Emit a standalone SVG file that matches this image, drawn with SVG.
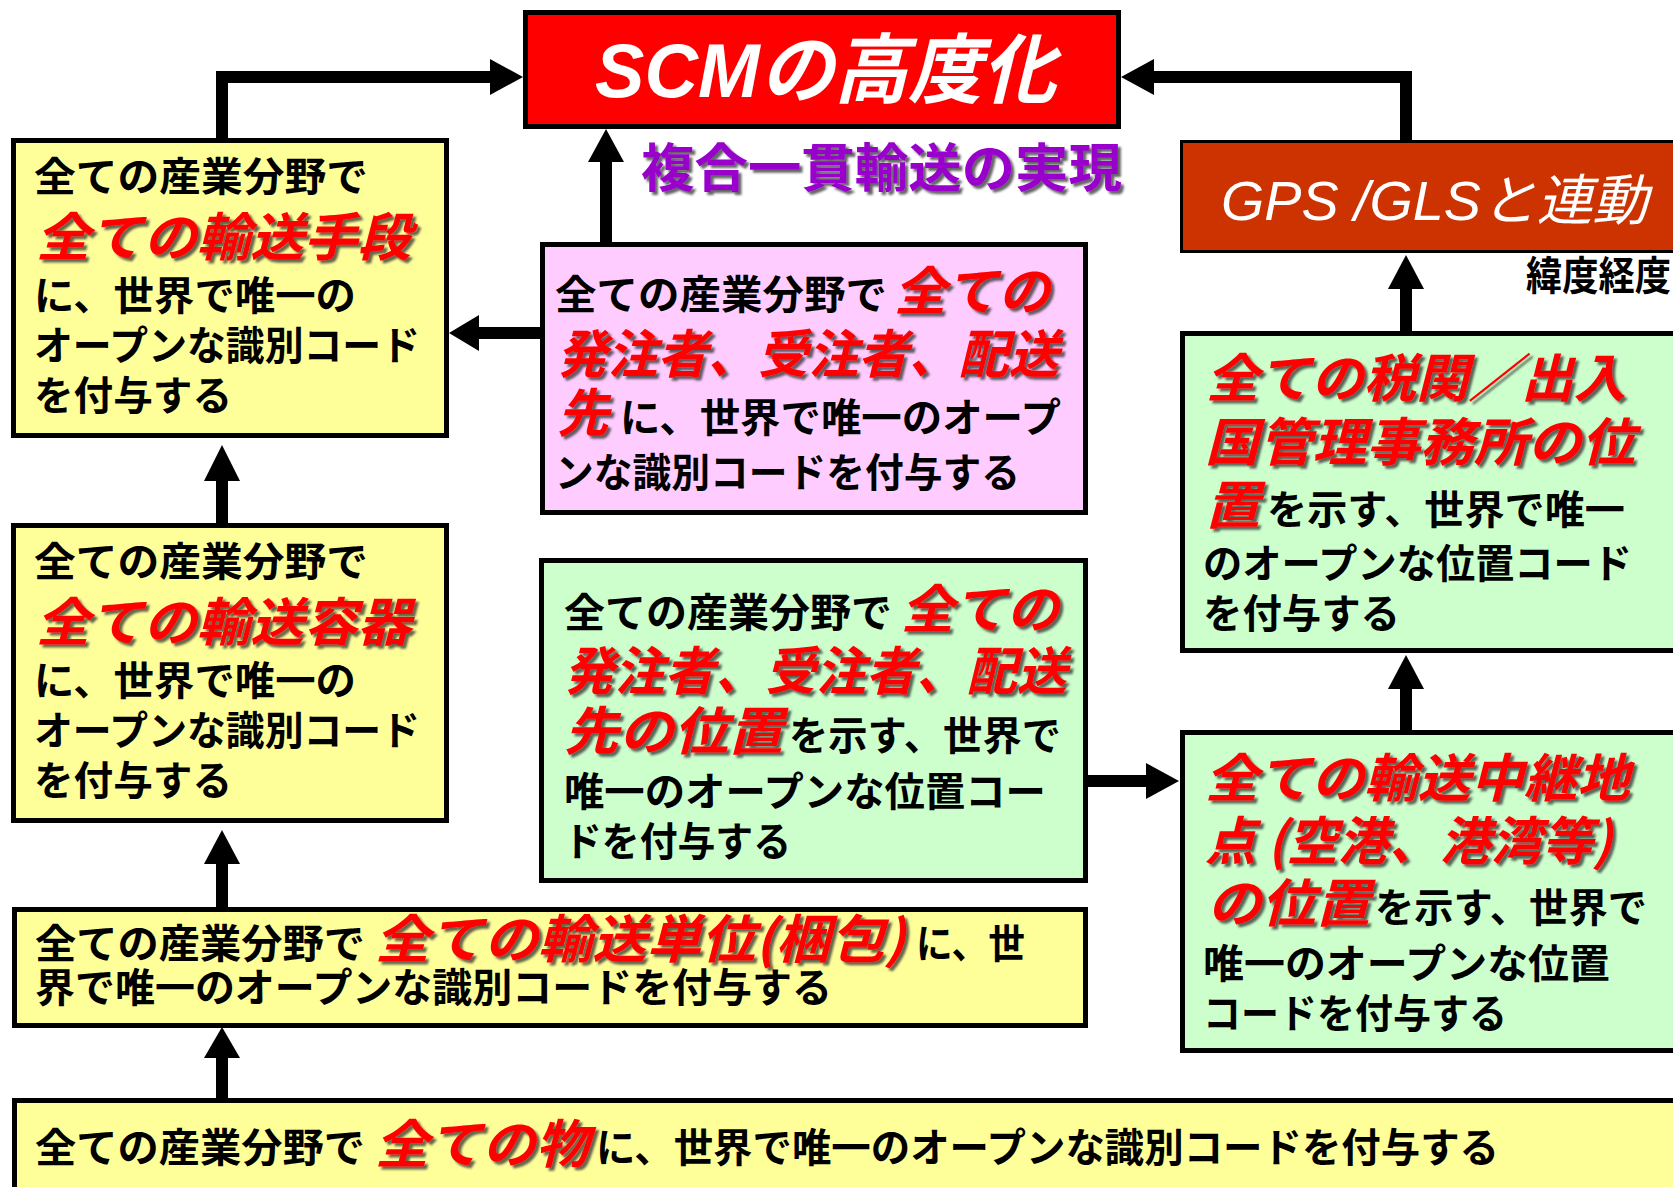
<svg xmlns="http://www.w3.org/2000/svg" width="1673" height="1187" viewBox="0 0 1673 1187">
<defs>
<filter id="sh" x="-5%" y="-20%" width="115%" height="150%">
<feDropShadow dx="3" dy="3" stdDeviation="1.2" flood-color="#333" flood-opacity="0.75"/>
</filter>
<style>
.box{stroke:#000;stroke-width:5}
.y{fill:#FFFF99}.p{fill:#FFCCFF}.g{fill:#CCFFCC}
.b{font-family:"Noto Sans CJK JP","Noto Sans CJK SC",sans-serif;font-weight:bold;font-size:40px;fill:#000}
.r{font-family:"Noto Sans CJK JP","Noto Sans CJK SC",sans-serif;font-weight:bold;font-style:italic;font-size:52px;fill:#FF0000;filter:url(#sh)}
.w{font-family:"Liberation Sans","Noto Sans CJK JP",sans-serif;font-style:italic;fill:#fff}
.ln{fill:none;stroke:#000;stroke-width:12}
.hd{fill:#000}
</style>
</defs>
<rect width="1673" height="1187" fill="#fff"/>

<g id="connectors">
<path class="ln" d="M222,140 V77 H494"/>
<polygon class="hd" points="523,77 490,59 490,95"/>
<path class="ln" d="M1406,142 V77 H1152"/>
<polygon class="hd" points="1121,77 1154,59 1154,95"/>
<path class="ln" d="M606,244 V158"/>
<polygon class="hd" points="606,129 588,162 624,162"/>
<path class="ln" d="M542,333 H476"/>
<polygon class="hd" points="449,333 479,315 479,351"/>
<path class="ln" d="M222,525 V478"/>
<polygon class="hd" points="222,445 204,481 240,481"/>
<path class="ln" d="M222,909 V862"/>
<polygon class="hd" points="222,830 204,864 240,864"/>
<path class="ln" d="M222,1100 V1054"/>
<polygon class="hd" points="222,1027 204,1058 240,1058"/>
<path class="ln" d="M1406,333 V286"/>
<polygon class="hd" points="1406,255 1388,289 1424,289"/>
<path class="ln" d="M1406,732 V686"/>
<polygon class="hd" points="1406,655 1388,689 1424,689"/>
<path class="ln" d="M1088,781 H1148"/>
<polygon class="hd" points="1179,781 1146,763 1146,799"/>
</g>

<g id="scm">
<rect x="525.5" y="12.5" width="593" height="114" fill="#FF0000" class="box"/>
<text class="w" x="595" y="97" font-size="76" font-weight="bold" textLength="461" lengthAdjust="spacingAndGlyphs">SCMの高度化</text>
</g>

<g id="label-intermodal">
<text x="641" y="187" font-family="Noto Sans CJK JP, sans-serif" font-weight="bold" font-size="52" fill="#9900CC" filter="url(#sh)" textLength="481" lengthAdjust="spacingAndGlyphs">複合一貫輸送の実現</text>
</g>

<g id="n-transport-means">
<rect class="box y" x="13.5" y="140.5" width="433" height="295"/>
<text class="b" x="34" y="191" textLength="334" lengthAdjust="spacingAndGlyphs">全ての産業分野で</text>
<text class="r" x="36" y="256" textLength="375" lengthAdjust="spacingAndGlyphs">全ての輸送手段</text>
<text class="b" x="34" y="310" textLength="322" lengthAdjust="spacingAndGlyphs">に、世界で唯一の</text>
<text class="b" x="34" y="360" textLength="386" lengthAdjust="spacingAndGlyphs">オープンな識別コード</text>
<text class="b" x="34" y="410" textLength="198" lengthAdjust="spacingAndGlyphs">を付与する</text>
</g>

<g id="n-parties">
<rect class="box p" x="542.5" y="244.5" width="543" height="268"/>
<text class="b" x="555" y="309" textLength="332" lengthAdjust="spacingAndGlyphs">全ての産業分野で</text>
<text class="r" x="894" y="310" textLength="156" lengthAdjust="spacingAndGlyphs">全ての</text>
<text class="r" x="557" y="373" textLength="502" lengthAdjust="spacingAndGlyphs">発注者、受注者、配送</text>
<text class="r" x="557" y="432" textLength="52" lengthAdjust="spacingAndGlyphs">先</text>
<text class="b" x="620" y="432" textLength="441" lengthAdjust="spacingAndGlyphs">に、世界で唯一のオープ</text>
<text class="b" x="555" y="487" textLength="465" lengthAdjust="spacingAndGlyphs">ンな識別コードを付与する</text>
</g>

<g id="n-containers">
<rect class="box y" x="13.5" y="525.5" width="433" height="295"/>
<text class="b" x="34" y="576" textLength="334" lengthAdjust="spacingAndGlyphs">全ての産業分野で</text>
<text class="r" x="36" y="641" textLength="375" lengthAdjust="spacingAndGlyphs">全ての輸送容器</text>
<text class="b" x="34" y="695" textLength="322" lengthAdjust="spacingAndGlyphs">に、世界で唯一の</text>
<text class="b" x="34" y="745" textLength="386" lengthAdjust="spacingAndGlyphs">オープンな識別コード</text>
<text class="b" x="34" y="795" textLength="198" lengthAdjust="spacingAndGlyphs">を付与する</text>
</g>

<g id="n-party-locations">
<rect class="box g" x="541.5" y="560.5" width="544" height="320"/>
<text class="b" x="564" y="627" textLength="328" lengthAdjust="spacingAndGlyphs">全ての産業分野で</text>
<text class="r" x="901" y="628" textLength="158" lengthAdjust="spacingAndGlyphs">全ての</text>
<text class="r" x="564" y="690" textLength="503" lengthAdjust="spacingAndGlyphs">発注者、受注者、配送</text>
<text class="r" x="564" y="750" textLength="219" lengthAdjust="spacingAndGlyphs">先の位置</text>
<text class="b" x="789" y="750" textLength="272" lengthAdjust="spacingAndGlyphs">を示す、世界で</text>
<text class="b" x="564" y="806" textLength="482" lengthAdjust="spacingAndGlyphs">唯一のオープンな位置コー</text>
<text class="b" x="564" y="856" textLength="227" lengthAdjust="spacingAndGlyphs">ドを付与する</text>
</g>

<g id="n-packages">
<rect class="box y" x="14.5" y="909.5" width="1071" height="116"/>
<text class="b" x="35" y="958" textLength="330" lengthAdjust="spacingAndGlyphs">全ての産業分野で</text>
<text class="r" x="375" y="958" textLength="530" lengthAdjust="spacingAndGlyphs">全ての輸送単位(梱包)</text>
<text class="b" x="916" y="958" textLength="109" lengthAdjust="spacingAndGlyphs">に、世</text>
<text class="b" x="35" y="1002" textLength="797" lengthAdjust="spacingAndGlyphs">界で唯一のオープンな識別コードを付与する</text>
</g>

<g id="n-goods">
<rect class="box y" x="14.5" y="1100.5" width="1680" height="100"/>
<text class="b" x="35" y="1162" textLength="330" lengthAdjust="spacingAndGlyphs">全ての産業分野で</text>
<text class="r" x="375" y="1163" textLength="214" lengthAdjust="spacingAndGlyphs">全ての物</text>
<text class="b" x="596" y="1162" textLength="903" lengthAdjust="spacingAndGlyphs">に、世界で唯一のオープンな識別コードを付与する</text>
</g>

<g id="n-gps">
<rect x="1181.5" y="141.5" width="520" height="110" fill="#CC3300" stroke="#000" stroke-width="3"/>
<text class="w" x="1221" y="220" font-size="55" textLength="427" lengthAdjust="spacingAndGlyphs">GPS /GLSと連動</text>
</g>

<g id="label-latlon">
<text class="b" x="1526" y="290" font-size="34" textLength="145" lengthAdjust="spacingAndGlyphs">緯度経度</text>
</g>

<g id="n-customs">
<rect class="box g" x="1182.5" y="333.5" width="520" height="317"/>
<text class="r" x="1206" y="397" textLength="420" lengthAdjust="spacingAndGlyphs">全ての税関／出入</text>
<text class="r" x="1205" y="461" textLength="430" lengthAdjust="spacingAndGlyphs">国管理事務所の位</text>
<text class="r" x="1205" y="524" textLength="55" lengthAdjust="spacingAndGlyphs">置</text>
<text class="b" x="1267" y="524" textLength="358" lengthAdjust="spacingAndGlyphs">を示す、世界で唯一</text>
<text class="b" x="1203" y="578" textLength="429" lengthAdjust="spacingAndGlyphs">のオープンな位置コード</text>
<text class="b" x="1203" y="628" textLength="197" lengthAdjust="spacingAndGlyphs">を付与する</text>
</g>

<g id="n-transit">
<rect class="box g" x="1182.5" y="732.5" width="520" height="318"/>
<text class="r" x="1205" y="797" textLength="425" lengthAdjust="spacingAndGlyphs">全ての輸送中継地</text>
<text class="r" x="1205" y="860" textLength="407" lengthAdjust="spacingAndGlyphs">点 (空港、港湾等)</text>
<text class="r" x="1207" y="922" textLength="163" lengthAdjust="spacingAndGlyphs">の位置</text>
<text class="b" x="1375" y="922" textLength="272" lengthAdjust="spacingAndGlyphs">を示す、世界で</text>
<text class="b" x="1203" y="978" textLength="407" lengthAdjust="spacingAndGlyphs">唯一のオープンな位置</text>
<text class="b" x="1203" y="1028" textLength="304" lengthAdjust="spacingAndGlyphs">コードを付与する</text>
</g>
</svg>
